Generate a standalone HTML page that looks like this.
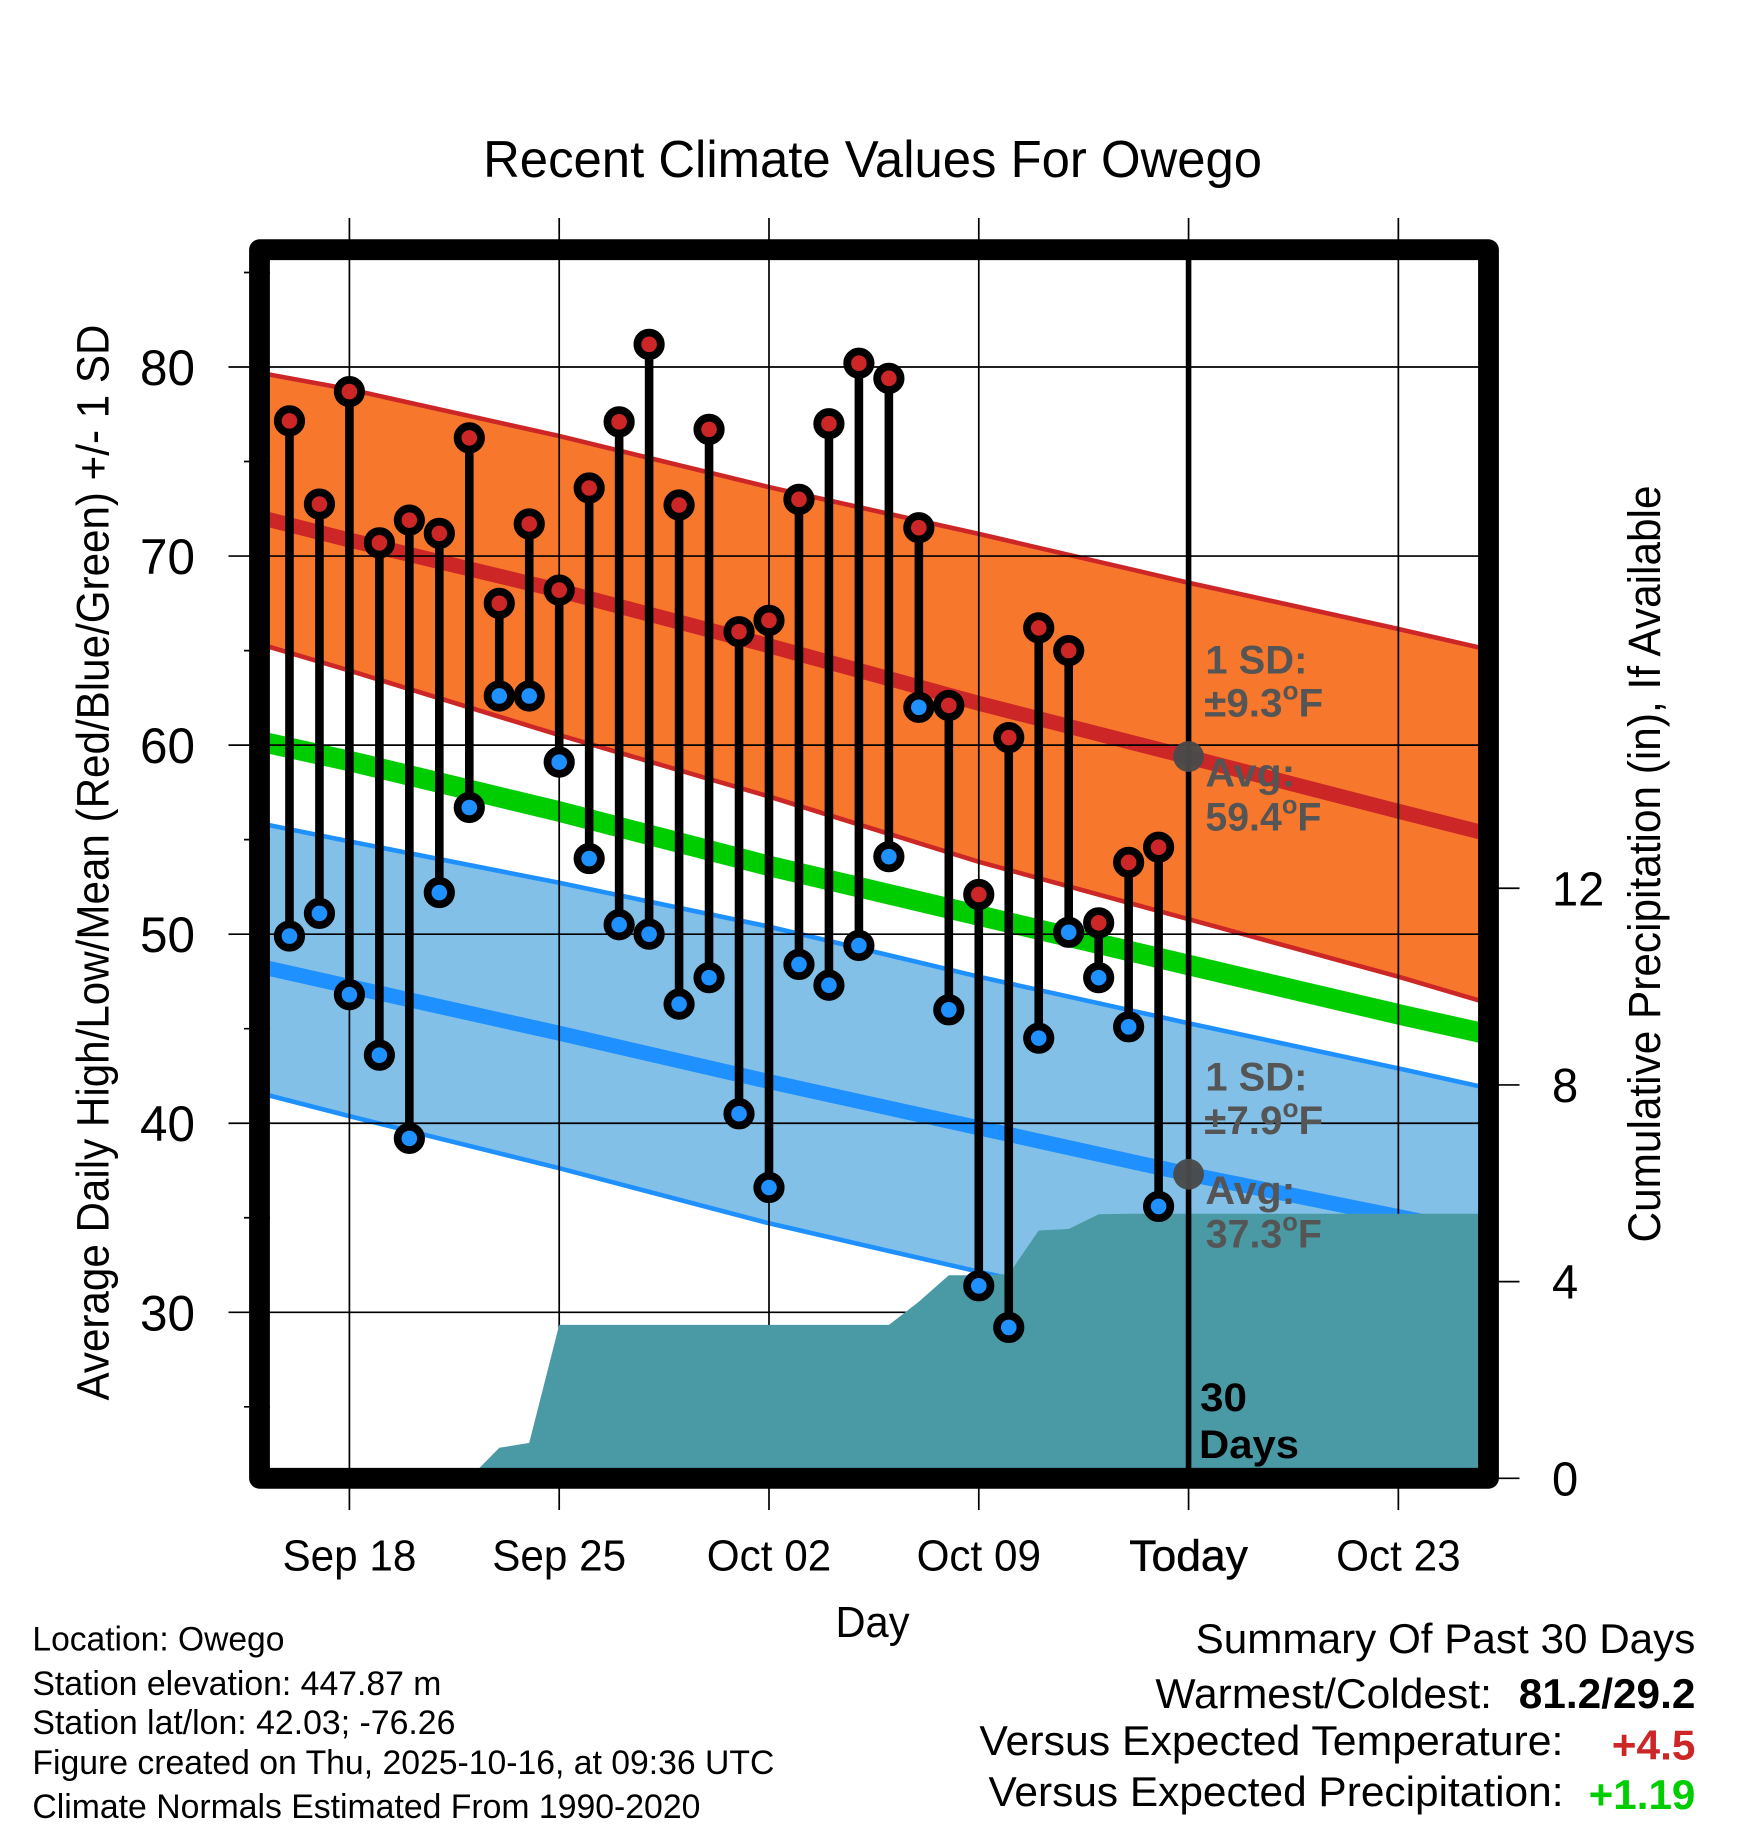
<!DOCTYPE html>
<html lang="en">
<head>
<meta charset="utf-8">
<title>Recent Climate Values For Owego</title>
<style>
html,body{margin:0;padding:0;background:#fff;}
svg{display:block;font-family:"Liberation Sans",Arial,sans-serif;}
</style>
</head>
<body>
<svg id="chart" xmlns="http://www.w3.org/2000/svg" width="1748" height="1828" viewBox="0 0 1748 1828">
  <defs>
    <clipPath id="plot-clip"><rect x="259.5" y="249.7" width="1229" height="1228.6"/></clipPath>
  </defs>
  <rect x="0" y="0" width="1748" height="1828" fill="#ffffff"/>
  <g id="plot-layer" clip-path="url(#plot-clip)"></g>
  <g id="tick-layer"></g>

  <text x="872.6" y="177" font-size="52" text-anchor="middle" textLength="779" lengthAdjust="spacingAndGlyphs">Recent Climate Values For Owego</text>
  <text transform="translate(108.3 862.5) rotate(-90)" font-size="45" text-anchor="middle" textLength="1076" lengthAdjust="spacingAndGlyphs">Average Daily High/Low/Mean (Red/Blue/Green) +/- 1 SD</text>
  <text transform="translate(1660 864) rotate(-90)" font-size="45" text-anchor="middle" textLength="757" lengthAdjust="spacingAndGlyphs">Cumulative Precipitation (in), If Available</text>
  <text x="872.5" y="1637" font-size="44" text-anchor="middle" textLength="74" lengthAdjust="spacingAndGlyphs">Day</text>

  <g font-size="40" font-weight="bold" fill="#555555">
    <text x="1205.4" y="673.3" textLength="102" lengthAdjust="spacingAndGlyphs">1 SD:</text>
    <text x="1204.2" y="716.7" textLength="119" lengthAdjust="spacingAndGlyphs">±9.3<tspan dy="-17" font-size="26">o</tspan><tspan dy="17">F</tspan></text>
    <text x="1205.4" y="786.7" textLength="90" lengthAdjust="spacingAndGlyphs">Avg:</text>
    <text x="1205.4" y="830.7" textLength="116" lengthAdjust="spacingAndGlyphs">59.4<tspan dy="-17" font-size="26">o</tspan><tspan dy="17">F</tspan></text>
  </g>
  <g font-size="40" font-weight="bold" fill="#555555">
    <text x="1205.4" y="1090.6" textLength="102" lengthAdjust="spacingAndGlyphs">1 SD:</text>
    <text x="1204.2" y="1134" textLength="119" lengthAdjust="spacingAndGlyphs">±7.9<tspan dy="-17" font-size="26">o</tspan><tspan dy="17">F</tspan></text>
    <text x="1205.4" y="1204" textLength="90" lengthAdjust="spacingAndGlyphs">Avg:</text>
    <text x="1205.8" y="1247.3" textLength="116" lengthAdjust="spacingAndGlyphs">37.3<tspan dy="-17" font-size="26">o</tspan><tspan dy="17">F</tspan></text>
  </g>
  <g font-size="40" font-weight="bold" fill="#000000">
    <text x="1200" y="1411" textLength="47" lengthAdjust="spacingAndGlyphs">30</text>
    <text x="1199" y="1458" textLength="100" lengthAdjust="spacingAndGlyphs">Days</text>
  </g>

  <rect x="259.5" y="249.7" width="1229" height="1228.6" fill="none" stroke="#000000" stroke-width="20.8" stroke-linejoin="round"/>

  <g font-size="34" fill="#000000">
    <text x="32.4" y="1650.7" textLength="252" lengthAdjust="spacingAndGlyphs">Location: Owego</text>
    <text x="32.4" y="1695" textLength="409" lengthAdjust="spacingAndGlyphs">Station elevation: 447.87 m</text>
    <text x="32.4" y="1734" textLength="423" lengthAdjust="spacingAndGlyphs">Station lat/lon: 42.03; -76.26</text>
    <text x="32.4" y="1774" textLength="742" lengthAdjust="spacingAndGlyphs">Figure created on Thu, 2025-10-16, at 09:36 UTC</text>
    <text x="32.4" y="1818" textLength="668" lengthAdjust="spacingAndGlyphs">Climate Normals Estimated From 1990-2020</text>
  </g>
  <g font-size="42" fill="#000000">
    <text x="1195.6" y="1653" textLength="499.8" lengthAdjust="spacingAndGlyphs">Summary Of Past 30 Days</text>
    <text x="1155.4" y="1708" textLength="336.6" lengthAdjust="spacingAndGlyphs">Warmest/Coldest:</text>
    <text x="1518.8" y="1708" font-weight="bold" textLength="176.6" lengthAdjust="spacingAndGlyphs">81.2/29.2</text>
    <text x="979.4" y="1755" textLength="584" lengthAdjust="spacingAndGlyphs">Versus Expected Temperature:</text>
    <text x="1611.8" y="1759.3" font-weight="bold" fill="#cd2626" textLength="83.6" lengthAdjust="spacingAndGlyphs">+4.5</text>
    <text x="988.5" y="1806" textLength="575" lengthAdjust="spacingAndGlyphs">Versus Expected Precipitation:</text>
    <text x="1588.6" y="1809" font-weight="bold" fill="#00cd00" textLength="106.8" lengthAdjust="spacingAndGlyphs">+1.19</text>
  </g>
</svg>
<script>
// ---- chart data ----
const days = [1,2,3,4,5,6,7,8,9,10,11,12,13,14,15,16,17,18,19,20,21,22,23,24,25,26,27,28,29,30];
const highs = [77.15,72.75,78.7,70.7,71.9,71.2,76.25,67.5,71.7,68.2,73.6,77.1,81.2,72.7,76.7,66.0,66.6,73.0,77.0,80.2,79.4,71.5,62.1,52.1,60.4,66.2,65.0,50.6,53.8,54.6];
const lows = [49.9,51.1,46.8,43.6,39.2,52.2,56.7,62.6,62.6,59.1,54.0,50.5,50.0,46.3,47.7,40.5,36.6,48.4,47.3,49.4,54.1,62.0,46.0,31.4,29.2,44.5,50.1,47.7,45.1,35.6];
const precip = [0,0,0,0,0,0,0,0.62,0.72,3.12,3.12,3.12,3.12,3.12,3.12,3.12,3.12,3.12,3.12,3.12,3.12,3.59,4.13,4.13,4.15,5.04,5.07,5.37,5.38,5.38];
const normalDays = [0,3,10,17,24,31,38,41];
const normalHighUpper = [79.7,78.82,76.35,73.65,71.17,68.59,66.14,65.05];
const normalHigh = [72.05,70.85,68.18,65.26,62.21,59.37,56.5,55.3];
const normalHighLower = [65.35,63.94,60.53,57.28,53.83,50.79,47.75,46.35];
const normalMean = [60.2,59.16,56.49,53.61,50.99,48.37,45.76,44.7];
const normalLowUpper = [55.87,54.91,52.72,50.4,47.75,45.29,42.9,41.85];
const normalLow = [48.3,47.24,44.76,42.2,39.76,37.31,35.06,34.1];
const normalLowLower = [41.6,40.38,37.62,34.71,32.15,29.7,27.37,26.4];
const xTickDays = [3,10,17,24,31,38];
const xTickLabels = ['Sep 18','Sep 25','Oct 02','Oct 09','Today','Oct 23'];
const yTicks = [30,40,50,60,70,80];
const yMinorTicks = [25,35,45,55,65,75,85];
const precipTicks = [0,4,8,12];
const todayDay = 31;
const todayHigh = 59.4;
const todayLow = 37.3;

// ---- axis functions ----
const xDay = d => 259.5 + 29.97 * d;
const yTemp = t => 367 + (80 - t) * 18.906;
const yPrecip = p => 1478.3 - p * 49.17;

const NS = 'http://www.w3.org/2000/svg';
const plot = document.getElementById('plot-layer');
const ticks = document.getElementById('tick-layer');
function mk(tag, attrs, parent) {
  const el = document.createElementNS(NS, tag);
  for (const k in attrs) el.setAttribute(k, attrs[k]);
  parent.appendChild(el);
  return el;
}
const linePts = (vals) => normalDays.map((d, i) => xDay(d).toFixed(1) + ',' + yTemp(vals[i]).toFixed(1));
const bandPts = (up, lo) => linePts(up).concat(linePts(lo).reverse()).join(' ');

let el;
el = mk('polygon', {points: bandPts(normalHighUpper, normalHighLower), fill: '#f7782c'}, plot);


el = mk('polyline', {points: linePts(normalHighUpper).join(' '), fill: 'none', stroke: '#cd2626', 'stroke-width': 4.6}, plot);


el = mk('polyline', {points: linePts(normalHighLower).join(' '), fill: 'none', stroke: '#cd2626', 'stroke-width': 4.6}, plot);


el = mk('polyline', {points: linePts(normalHigh).join(' '), fill: 'none', stroke: '#cd2626', 'stroke-width': 15}, plot);


el = mk('polygon', {points: bandPts(normalLowUpper, normalLowLower), fill: '#82c0e8'}, plot);


el = mk('polyline', {points: linePts(normalLowUpper).join(' '), fill: 'none', stroke: '#1e90ff', 'stroke-width': 4.6}, plot);


el = mk('polyline', {points: linePts(normalLowLower).join(' '), fill: 'none', stroke: '#1e90ff', 'stroke-width': 4.6}, plot);


el = mk('polyline', {points: linePts(normalLow).join(' '), fill: 'none', stroke: '#1e90ff', 'stroke-width': 15}, plot);


el = mk('polyline', {points: linePts(normalMean).join(' '), fill: 'none', stroke: '#00cd00', 'stroke-width': 20.5}, plot);



// gridlines and tick marks
yTicks.forEach(t => {
  el = mk('line', {x1: 228.5, x2: 1488.5, y1: yTemp(t), y2: yTemp(t), stroke: '#000', 'stroke-width': 1.7}, plot);
  
  
  el = mk('line', {x1: 228.5, x2: 270, y1: yTemp(t), y2: yTemp(t), stroke: '#000', 'stroke-width': 1.7}, ticks);
  
  
  el = mk('text', {x: 167.5, y: yTemp(t) + 18, 'font-size': 50, 'text-anchor': 'middle', textLength: 55, lengthAdjust: 'spacingAndGlyphs'}, ticks);
  el.textContent = String(t);
  
  
});
yMinorTicks.forEach(t => {
  el = mk('line', {x1: 244, x2: 270, y1: yTemp(t), y2: yTemp(t), stroke: '#000', 'stroke-width': 1.7}, ticks);
  
  
});
xTickDays.forEach((d, i) => {
  el = mk('line', {x1: xDay(d), x2: xDay(d), y1: 260, y2: 1478, stroke: '#000', 'stroke-width': 1.7}, plot);
  
  
  el = mk('line', {x1: xDay(d), x2: xDay(d), y1: 218, y2: 250, stroke: '#000', 'stroke-width': 1.7}, ticks);
  
  
  el = mk('line', {x1: xDay(d), x2: xDay(d), y1: 1478, y2: 1510, stroke: '#000', 'stroke-width': 1.7}, ticks);
  
  
  el = mk('text', {x: xDay(d), y: 1570.7, 'font-size': 44, 'text-anchor': 'middle'}, ticks);
  el.textContent = xTickLabels[i];
  if (d === todayDay) {
    el.setAttribute('stroke', '#000');
    el.setAttribute('stroke-width', '0.5');
  }
  
  
  el.setAttribute('textLength', (el.getComputedTextLength() * (d === todayDay ? 1.01 : 0.96)).toFixed(1));
  el.setAttribute('lengthAdjust', 'spacingAndGlyphs');
});
precipTicks.forEach(p => {
  el = mk('line', {x1: 1488, x2: 1519.5, y1: yPrecip(p), y2: yPrecip(p), stroke: '#000', 'stroke-width': 1.7}, ticks);
  
  
  el = mk('text', {x: 1552, y: yPrecip(p) + 17, 'font-size': 48}, ticks);
  el.textContent = String(p);
  
  
  el.setAttribute('textLength', (el.getComputedTextLength() * 0.98).toFixed(1));
  el.setAttribute('lengthAdjust', 'spacingAndGlyphs');
});

// cumulative precipitation area
const lastPrecip = precip[precip.length - 1];
const precipPts = [xDay(days[0]) + ',' + yPrecip(0)]
  .concat(days.map((d, i) => xDay(d).toFixed(1) + ',' + yPrecip(precip[i]).toFixed(1)))
  .concat([xDay(41) + ',' + yPrecip(lastPrecip).toFixed(1), xDay(41) + ',' + yPrecip(0)]);
el = mk('polygon', {points: precipPts.join(' '), fill: '#4a9aa6'}, plot);



// today's line
el = mk('line', {x1: xDay(todayDay), x2: xDay(todayDay), y1: 250, y2: 1478, stroke: '#000', 'stroke-width': 5.6}, plot);



// today's normals markers
el = mk('circle', {cx: xDay(todayDay), cy: yTemp(todayHigh), r: 15.4, fill: '#4a4a4a', 'fill-opacity': 0.96}, plot);


el = mk('circle', {cx: xDay(todayDay), cy: yTemp(todayLow), r: 15.4, fill: '#4a4a4a', 'fill-opacity': 0.96}, plot);



// daily high/low stems and markers
days.forEach((d, i) => {
  el = mk('line', {x1: xDay(d), x2: xDay(d), y1: yTemp(highs[i]), y2: yTemp(lows[i]), stroke: '#000', 'stroke-width': 8.6}, plot);
  
  
});
days.forEach((d, i) => {
  el = mk('circle', {cx: xDay(d), cy: yTemp(lows[i]), r: 11.7, fill: '#1e90ff', stroke: '#000', 'stroke-width': 7.8}, plot);
  
  
  el = mk('circle', {cx: xDay(d), cy: yTemp(highs[i]), r: 11.7, fill: '#cd2626', stroke: '#000', 'stroke-width': 7.8}, plot);
  
  
});
</script>
</body>
</html>
